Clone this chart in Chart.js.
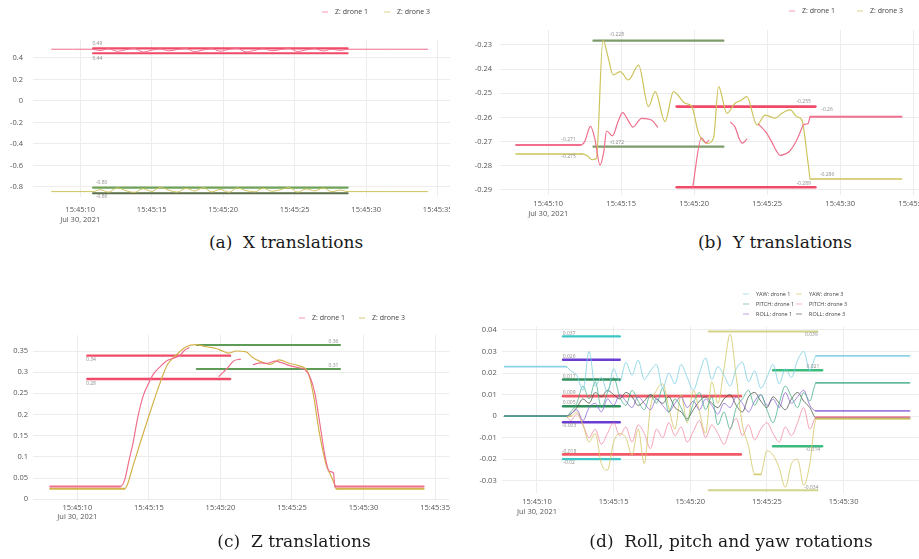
<!DOCTYPE html>
<html>
<head>
<meta charset="utf-8">
<script src="https://cdn.jsdelivr.net/npm/chart.js@4.4.1/dist/chart.umd.min.js"></script>
<style>
html,body{margin:0;padding:0;background:#fff;}
body{width:919px;height:559px;position:relative;overflow:hidden;}
.panel{position:absolute;overflow:hidden;}
.panel canvas{position:absolute;left:0;top:0;}
.cap{position:absolute;transform:translate(-50%,-50%);font-family:"DejaVu Serif","Liberation Serif",serif;font-size:17px;color:#1a1a1a;white-space:nowrap;}
</style>
</head>
<body>
<div class="panel" style="left:0;top:0;width:450px;height:232px"><canvas id="chartA"></canvas></div>
<div class="panel" style="left:455px;top:0;width:464px;height:232px"><canvas id="chartB"></canvas></div>
<div class="panel" style="left:0;top:295px;width:450px;height:240px"><canvas id="chartC"></canvas></div>
<div class="panel" style="left:455px;top:280px;width:464px;height:252px"><canvas id="chartD"></canvas></div>
<div class="cap" style="left:286px;top:242px">(a)&nbsp; X translations</div>
<div class="cap" style="left:775px;top:242px">(b)&nbsp; Y translations</div>
<div class="cap" style="left:294px;top:541px">(c)&nbsp; Z translations</div>
<div class="cap" style="left:731px;top:541px">(d)&nbsp; Roll, pitch and yaw rotations</div>
<script>
// ---------- shared tick labels / names ----------
const X_TICK_SECONDS = [10, 15, 20, 25, 30, 35];
const X_TICK_PREFIX = '15:45:';
const X_TICK_DATE = 'Jul 30, 2021';
const NAMES_TRANSLATION = ['Z: drone 1', 'Z: drone 3'];
const NAMES_ROTATION = ['YAW: drone 1', 'PITCH: drone 1', 'ROLL: drone 1', 'YAW: drone 3', 'PITCH: drone 3', 'ROLL: drone 3'];

// ---------- (a) X translations ----------
const A_TIME = [8.0, 10.9, 11.4, 12.0, 12.6, 13.2, 13.8, 14.4, 15.0, 15.6, 16.2, 16.8, 17.4, 18.0, 18.6, 19.2, 19.8, 20.4, 21.0, 21.6, 22.2, 22.8, 23.4, 24.0, 24.6, 25.2, 25.8, 26.4, 27.0, 27.6, 28.2, 28.7, 34.3];
const A_X_DRONE1 = [0.481, 0.481, 0.468, 0.486, 0.462, 0.477, 0.489, 0.455, 0.472, 0.484, 0.466, 0.479, 0.488, 0.458, 0.474, 0.486, 0.463, 0.480, 0.490, 0.456, 0.471, 0.485, 0.467, 0.478, 0.489, 0.460, 0.475, 0.486, 0.465, 0.481, 0.470, 0.481, 0.481];
const A_X_DRONE3 = [-0.843, -0.843, -0.825, -0.848, -0.806, -0.835, -0.850, -0.815, -0.842, -0.803, -0.830, -0.847, -0.812, -0.838, -0.805, -0.846, -0.822, -0.849, -0.808, -0.833, -0.845, -0.811, -0.840, -0.826, -0.804, -0.848, -0.818, -0.836, -0.809, -0.844, -0.828, -0.843, -0.843];
const A_LIMIT_SPAN = [10.9, 28.7];
const A_LIMITS_DRONE1 = [0.490, 0.444];
const A_LIMITS_DRONE3 = [-0.806, -0.858];
const A_Y_TICKS = [-0.8, -0.6, -0.4, -0.2, 0, 0.2, 0.4];
const A_NOTE_TEXT = ['0.49', '0.44', '-0.80', '-0.86'];
const A_NOTE_T = [11.2, 11.2, 11.5, 11.5];
const A_NOTE_V = [0.535, 0.392, -0.755, -0.892];

// ---------- (b) Y translations ----------
const B_TIME_DRONE1 = [7.8, 12.2, 12.5, 12.9, 13.2, 13.55, 13.8, 14.0, 14.4, 14.8, 15.1, 15.5, 15.8, 16.4, 17.1, 17.5, 17.7, 19.9, 20.5, 20.8, 21.0, 21.1, 22.5, 22.8, 23.1, 23.3, 23.6, 23.7, 24.4, 24.9, 25.3, 25.6, 25.9, 26.2, 26.5, 26.9, 27.2, 27.5, 27.8, 27.95, 34.2];
const B_Y_DRONE1 = [-0.2714, -0.2714, -0.2700, -0.2637, -0.2690, -0.2797, -0.2745, -0.2656, -0.2676, -0.2615, -0.2580, -0.2615, -0.2640, -0.2604, -0.2612, -0.2640, null, -0.2888, -0.2684, -0.2705, -0.2695, null, -0.2620, -0.2640, -0.2690, -0.2706, -0.2690, null, -0.2628, -0.2660, -0.2700, -0.2735, -0.2757, -0.2752, -0.2742, -0.2708, -0.2670, -0.2630, -0.2625, -0.2597, -0.2597];
const B_TIME_DRONE3 = [7.8, 12.3, 12.7, 13.0, 13.3, 13.75, 14.1, 14.45, 14.93, 15.5, 16.19, 16.87, 17.33, 18.0, 18.58, 19.38, 19.84, 20.3, 20.87, 21.32, 21.67, 22.24, 22.8, 23.2, 23.6, 24.3, 24.86, 25.55, 26.0, 26.58, 27.03, 27.37, 27.83, 27.95, 34.2];
const B_Y_DRONE3 = [-0.2751, -0.2751, -0.2760, -0.2775, -0.2770, -0.2279, -0.2350, -0.2424, -0.2410, -0.2445, -0.2383, -0.2555, -0.2493, -0.2617, -0.2493, -0.2541, -0.2555, -0.2665, -0.2707, -0.2686, -0.2472, -0.2583, -0.2541, -0.2530, -0.2514, -0.2631, -0.2590, -0.2603, -0.2583, -0.2569, -0.2597, -0.2610, -0.2803, -0.2855, -0.2855];
const B_LIMIT_SPAN_DRONE3 = [13.1, 22.0];
const B_LIMITS_DRONE3 = [-0.2282, -0.2721];
const B_LIMIT_SPAN_DRONE1 = [18.8, 28.3];
const B_LIMITS_DRONE1 = [-0.2555, -0.2889];
const B_Y_TICKS = [-0.29, -0.28, -0.27, -0.26, -0.25, -0.24, -0.23];
const B_NOTE_TEXT = ['-0.228', '-0.272', '-0.255', '-0.289', '-0.26', '-0.286', '-0.271', '-0.275'];
const B_NOTE_T = [14.7, 14.7, 27.5, 27.5, 29.1, 29.1, 11.4, 11.4];
const B_NOTE_V = [-0.2259, -0.2704, -0.2535, -0.2875, -0.2569, -0.2838, -0.2693, -0.2762];

// ---------- (c) Z translations ----------
const C_TIME_DRONE1 = [8.1, 13.0, 13.3, 13.6, 13.9, 14.2, 14.6, 15.0, 15.3, 15.7, 16.2, 16.7, 17.1, 17.5, 17.8, 17.9, 19.9, 20.2, 20.5, 20.9, 21.4, 21.5, 22.3, 22.8, 23.3, 23.8, 24.3, 24.9, 25.4, 25.9, 26.3, 26.6, 27.0, 27.3, 27.6, 27.9, 28.0, 34.2];
const C_Z_DRONE1 = [0.030, 0.030, 0.045, 0.090, 0.1345, 0.190, 0.244, 0.275, 0.295, 0.310, 0.326, 0.333, 0.338, 0.352, 0.3575, null, 0.290, 0.300, 0.310, 0.326, 0.331, null, 0.318, 0.322, 0.321, 0.326, 0.322, 0.315, 0.311, 0.306, 0.285, 0.250, 0.167, 0.103, 0.066, 0.062, 0.030, 0.030];
const C_TIME_DRONE3 = [8.1, 13.3, 13.5, 13.9, 14.4, 15.0, 15.7, 16.3, 16.9, 17.6, 18.3, 19.0, 19.7, 20.2, 20.6, 21.1, 21.8, 22.2, 22.8, 23.5, 24.1, 24.8, 25.5, 26.1, 26.5, 26.9, 27.4, 27.7, 28.0, 28.1, 34.2];
const C_Z_DRONE3 = [0.025, 0.025, 0.035, 0.080, 0.134, 0.197, 0.267, 0.318, 0.340, 0.360, 0.365, 0.360, 0.356, 0.349, 0.345, 0.350, 0.348, 0.336, 0.325, 0.3185, 0.329, 0.321, 0.315, 0.301, 0.246, 0.159, 0.080, 0.057, 0.033, 0.025, 0.025];
const C_LIMIT_SPAN_DRONE1 = [10.7, 20.67];
const C_LIMITS_DRONE1 = [0.339, 0.284];
const C_LIMIT_SPAN_DRONE3 = [18.34, 28.36];
const C_LIMITS_DRONE3 = [0.364, 0.3074];
const C_Y_TICKS = [0, 0.05, 0.1, 0.15, 0.2, 0.25, 0.3, 0.35];
const C_NOTE_TEXT = ['0.34', '0.28', '0.36', '0.31'];
const C_NOTE_T = [10.95, 10.95, 27.9, 27.9];
const C_NOTE_V = [0.329, 0.274, 0.373, 0.316];

// ---------- (d) Roll, pitch and yaw rotations ----------
const D_TIME = [7.9, 11.9, 12.2, 12.6, 13.0, 13.4, 13.8, 14.2, 14.6, 15.0, 15.4, 15.8, 16.2, 16.6, 17.0, 17.4, 17.8, 18.2, 18.6, 19.0, 19.4, 19.8, 20.2, 20.6, 21.0, 21.4, 21.8, 22.2, 22.6, 23.0, 23.4, 23.8, 24.2, 24.6, 25.0, 25.4, 25.8, 26.2, 26.6, 27.0, 27.4, 27.8, 28.2, 34.3];
const D_YAW_DRONE1 = [0.023, 0.023, 0.021, 0.019, 0.012, 0.030, 0.014, 0.018, 0.011, 0.022, 0.016, 0.025, 0.019, 0.026, 0.017, 0.021, 0.024, 0.013, 0.020, 0.015, 0.024, 0.018, 0.012, 0.020, 0.027, 0.017, 0.023, 0.019, 0.014, 0.022, 0.025, 0.016, 0.021, 0.013, 0.018, 0.024, 0.015, 0.022, 0.018, 0.026, 0.030, 0.021, 0.028, 0.028];
const D_PITCH_DRONE1 = [0, 0, 0.002, 0.006, 0.014, 0.008, 0.016, 0.004, 0.011, 0.018, 0.009, 0.005, 0.012, 0.007, 0.003, 0.010, 0.006, 0.013, 0.002, 0.008, 0.004, -0.002, 0.006, 0.011, 0.003, 0.009, -0.004, 0.002, -0.006, 0.004, 0.008, 0.012, 0.005, 0.010, 0.003, -0.003, 0.006, 0.014, 0.009, 0.004, 0.011, 0.007, 0.0155, 0.0155];
const D_ROLL_DRONE1 = [0, 0, 0.001, 0.003, -0.002, 0.004, 0.006, 0.002, 0.008, 0.005, 0.010, 0.007, 0.004, 0.009, 0.006, 0.003, 0.008, 0.005, 0.002, 0.006, 0.009, 0.004, 0.007, 0.003, 0.008, 0.005, 0.001, 0.006, 0.004, 0.009, 0.006, 0.002, 0.007, 0.010, 0.005, 0.008, 0.004, 0.011, 0.006, 0.009, 0.012, 0.005, 0.0025, 0.0025];
const D_YAW_DRONE3 = [0, 0, 0.000, 0.002, -0.004, -0.012, -0.008, -0.022, -0.025, -0.012, -0.008, -0.010, -0.018, -0.006, -0.022, 0.004, 0.012, 0.015, 0.004, -0.006, 0.010, -0.003, 0.012, 0.002, -0.008, 0.016, 0.006, 0.022, 0.038, 0.018, -0.004, -0.014, -0.027, -0.027, -0.016, -0.018, -0.024, -0.033, -0.022, -0.020, -0.032, -0.022, -0.0012, -0.0012];
const D_PITCH_DRONE3 = [0, 0, -0.002, 0.001, -0.004, -0.010, -0.006, -0.013, -0.008, -0.003, -0.009, -0.005, -0.012, -0.004, -0.008, -0.015, -0.006, -0.010, -0.003, -0.009, -0.005, -0.012, -0.007, -0.002, -0.010, -0.004, -0.008, -0.013, -0.006, -0.001, -0.009, -0.004, -0.011, -0.006, -0.003, -0.008, -0.012, -0.005, -0.009, -0.003, 0.004, -0.006, -0.0003, -0.0003];
const D_ROLL_DRONE3 = [0, 0, 0.001, 0.004, 0.008, 0.006, 0.011, 0.009, 0.012, 0.010, 0.008, 0.011, 0.009, 0.005, 0.007, 0.010, 0.008, 0.006, 0.009, 0.004, 0.002, -0.001, 0.003, 0.007, 0.009, 0.006, 0.004, 0.008, 0.010, 0.005, 0.002, 0.009, 0.011, 0.007, 0.004, 0.009, 0.006, 0.003, 0.008, 0.011, 0.007, 0.004, -0.0009, -0.0009];
const D_SPAN_EARLY = [11.7, 15.4];
const D_SPAN_RED = [11.7, 23.3];
const D_SPAN_OLIVE = [21.2, 28.3];
const D_SPAN_GREEN = [25.4, 28.6];
const D_LIMITS_CYAN = [0.037, -0.0199];
const D_LIMITS_PURPLE = [0.0262, -0.0028];
const D_LIMITS_DKGREEN = [0.017, 0.0046];
const D_LIMITS_RED = [0.0093, -0.0177];
const D_LIMITS_OLIVE = [0.0393, -0.0343];
const D_LIMITS_GREEN = [0.0213, -0.0139];
const D_Y_TICKS = [-0.03, -0.02, -0.01, 0, 0.01, 0.02, 0.03, 0.04];
const D_NOTE_TEXT = ['0.037', '0.026', '0.017', '0.009', '0.005', '-0.003', '-0.018', '-0.02', '0.039', '-0.034', '0.021', '-0.014'];
const D_NOTE_T = [12.1, 12.1, 12.1, 12.1, 12.1, 12.1, 12.1, 12.1, 27.9, 27.9, 28.0, 28.0];
const D_NOTE_V = [0.0385, 0.0277, 0.0185, 0.0108, 0.0061, -0.0043, -0.0162, -0.0214, 0.0377, -0.0330, 0.0228, -0.0154];

// ---------- helpers ----------
const FONT = '"Open Sans", sans-serif';
const GRID = '#ececec';
const TICK = '#555555';
Chart.defaults.font.family = FONT;

function pts(ts, vs) { return ts.map((t, i) => ({ x: t, y: vs[i] })); }
function hline(span, v) { return [{ x: span[0], y: v }, { x: span[1], y: v }]; }
function series(label, ts, vs, color, w, flatW) {
  return {
    label, data: pts(ts, vs), borderColor: color, backgroundColor: color,
    borderWidth: w, pointRadius: 0, cubicInterpolationMode: 'monotone', spanGaps: false,
    segment: { borderWidth: c => (c.p0.parsed.y === c.p1.parsed.y ? flatW : undefined) }
  };
}
function limit(span, v, color, w) {
  return { label: '', data: hline(span, v), borderColor: color, backgroundColor: color, borderWidth: w, pointRadius: 0 };
}
function fmtY(v) { return String(+(+v).toFixed(4)); }
function timeTick(v) {
  const s = Math.round(v);
  const lab = X_TICK_PREFIX + String(s).padStart(2, '0');
  return s === X_TICK_SECONDS[0] ? [lab, X_TICK_DATE] : lab;
}
function legendPlugin(items, size) {
  return {
    id: 'miniLegend',
    afterDraw(chart) {
      const ctx = chart.ctx; ctx.save();
      ctx.font = size + 'px ' + FONT; ctx.textBaseline = 'middle'; ctx.textAlign = 'left';
      items.forEach(it => {
        const ds = chart.data.datasets[it.ds];
        ctx.strokeStyle = ds.borderColor; ctx.lineWidth = 1.2; ctx.globalAlpha = 0.6;
        ctx.beginPath(); ctx.moveTo(it.x - 3, it.y); ctx.lineTo(it.x + 3, it.y); ctx.stroke();
        ctx.globalAlpha = 1; ctx.fillStyle = '#444';
        ctx.fillText(ds.label, it.x + 10, it.y);
      });
      ctx.restore();
    }
  };
}
function notePlugin(texts, ts, vs) {
  return {
    id: 'valueNotes',
    afterDatasetsDraw(chart) {
      const { ctx, scales: { x, y } } = chart; ctx.save();
      ctx.font = '5px ' + FONT; ctx.fillStyle = '#8d8d8d'; ctx.textAlign = 'center'; ctx.textBaseline = 'middle';
      texts.forEach((t, i) => ctx.fillText(t, x.getPixelForValue(ts[i]), y.getPixelForValue(vs[i])));
      ctx.restore();
    }
  };
}
function makeChart(id, W, H, area, xr, yr, yTicks, xPad, datasets, legendItems, legendSize, notes) {
  const cv = document.getElementById(id);
  cv.width = W; cv.height = H; cv.style.width = W + 'px'; cv.style.height = H + 'px';
  return new Chart(cv, {
    type: 'line',
    data: { datasets },
    options: {
      responsive: false, animation: false, devicePixelRatio: 1,
      layout: { padding: { left: 0, top: area.top, right: W - area.right, bottom: 0 } },
      plugins: { legend: { display: false }, tooltip: { enabled: false } },
      elements: { line: { borderCapStyle: 'round', borderJoinStyle: 'round' } },
      scales: {
        x: {
          type: 'linear', min: xr[0], max: xr[1],
          grid: { color: GRID, drawTicks: false, lineWidth: 1 }, border: { display: false },
          afterBuildTicks: s => { s.ticks = X_TICK_SECONDS.filter(v => v >= xr[0] && v <= xr[1]).map(v => ({ value: v })); },
          afterFit: s => { s.height = H - area.bottom; },
          ticks: { autoSkip: false, maxRotation: 0, padding: xPad, color: TICK, font: { family: FONT, size: 7.5, lineHeight: 1.3 }, callback: timeTick }
        },
        y: {
          type: 'linear', min: yr[0], max: yr[1],
          grid: { color: GRID, drawTicks: false, lineWidth: 1 }, border: { display: false },
          afterBuildTicks: s => { s.ticks = yTicks.map(v => ({ value: v })); },
          afterFit: s => { s.width = area.left; },
          ticks: { padding: area.yPad, color: TICK, font: { family: FONT, size: 7.5 }, callback: fmtY }
        }
      }
    },
    plugins: [legendPlugin(legendItems, legendSize), notePlugin(notes[0], notes[1], notes[2])]
  });
}

const PINK = '#ef6f8d', YELLOW = '#cdc35c', RED = '#f04a68', GREEN_B = '#7d9b6b', GREEN_C = '#5e9b57';

// (a)
makeChart('chartA', 490, 232, { left: 33, right: 452, top: 40, bottom: 197, yPad: 10 }, [6.7, 36], [-0.893, 0.567], A_Y_TICKS, 8, [
  series(NAMES_TRANSLATION[0], A_TIME, A_X_DRONE1, PINK, 1, 1),
  series(NAMES_TRANSLATION[1], A_TIME, A_X_DRONE3, YELLOW, 1, 1),
  limit(A_LIMIT_SPAN, A_LIMITS_DRONE1[0], RED, 2.2),
  limit(A_LIMIT_SPAN, A_LIMITS_DRONE1[1], RED, 2.2),
  limit(A_LIMIT_SPAN, A_LIMITS_DRONE3[0], '#6fa35a', 2.2),
  limit(A_LIMIT_SPAN, A_LIMITS_DRONE3[1], '#5b6e48', 2.2)
], [{ ds: 0, x: 325, y: 12 }, { ds: 1, x: 387, y: 12 }], 7, [A_NOTE_TEXT, A_NOTE_T, A_NOTE_V]);

// (b)
makeChart('chartB', 510, 232, { left: 45, right: 472.8, top: 30, bottom: 195, yPad: 8 }, [6.7, 36], [-0.2921, -0.2238], B_Y_TICKS, 4, [
  series(NAMES_TRANSLATION[0], B_TIME_DRONE1, B_Y_DRONE1, PINK, 1.2, 2),
  series(NAMES_TRANSLATION[1], B_TIME_DRONE3, B_Y_DRONE3, YELLOW, 1.2, 1.6),
  limit(B_LIMIT_SPAN_DRONE3, B_LIMITS_DRONE3[0], GREEN_B, 2.2),
  limit(B_LIMIT_SPAN_DRONE3, B_LIMITS_DRONE3[1], GREEN_B, 2.2),
  limit(B_LIMIT_SPAN_DRONE1, B_LIMITS_DRONE1[0], RED, 2.6),
  limit(B_LIMIT_SPAN_DRONE1, B_LIMITS_DRONE1[1], RED, 2.6)
], [{ ds: 0, x: 337, y: 11 }, { ds: 1, x: 405, y: 11 }], 7, [B_NOTE_TEXT, B_NOTE_T, B_NOTE_V]);

// (c)
makeChart('chartC', 490, 240, { left: 33, right: 449.4, top: 40, bottom: 205.5, yPad: 5 }, [6.9, 36], [-0.003, 0.3878], C_Y_TICKS, 2, [
  series(NAMES_TRANSLATION[0], C_TIME_DRONE1, C_Z_DRONE1, PINK, 1.2, 2),
  series(NAMES_TRANSLATION[1], C_TIME_DRONE3, C_Z_DRONE3, '#d2b24a', 1.2, 2),
  limit(C_LIMIT_SPAN_DRONE1, C_LIMITS_DRONE1[0], RED, 2.4),
  limit(C_LIMIT_SPAN_DRONE1, C_LIMITS_DRONE1[1], RED, 2.4),
  limit(C_LIMIT_SPAN_DRONE3, C_LIMITS_DRONE3[0], GREEN_C, 2),
  limit(C_LIMIT_SPAN_DRONE3, C_LIMITS_DRONE3[1], GREEN_C, 2)
], [{ ds: 0, x: 302, y: 23 }, { ds: 1, x: 362, y: 23 }], 7, [C_NOTE_TEXT, C_NOTE_T, C_NOTE_V]);

// (d)
makeChart('chartD', 470, 252, { left: 46.7, right: 463.7, top: 46.7, bottom: 213, yPad: 5 }, [7.7, 34.9], [-0.0356, 0.0415], D_Y_TICKS, 4, [
  series(NAMES_ROTATION[0], D_TIME, D_YAW_DRONE1, 'rgba(120,205,225,0.85)', 0.9, 1.8),
  series(NAMES_ROTATION[1], D_TIME, D_PITCH_DRONE1, 'rgba(60,170,130,0.8)', 0.9, 1.8),
  series(NAMES_ROTATION[2], D_TIME, D_ROLL_DRONE1, 'rgba(135,90,210,0.8)', 0.9, 1.8),
  series(NAMES_ROTATION[3], D_TIME, D_YAW_DRONE3, 'rgba(210,198,100,0.9)', 0.9, 1.8),
  series(NAMES_ROTATION[4], D_TIME, D_PITCH_DRONE3, 'rgba(240,130,155,0.8)', 0.9, 1.8),
  series(NAMES_ROTATION[5], D_TIME, D_ROLL_DRONE3, 'rgba(70,78,60,0.85)', 0.9, 1.8),
  limit(D_SPAN_EARLY, D_LIMITS_CYAN[0], '#3ec6c6', 2.4),
  limit(D_SPAN_EARLY, D_LIMITS_CYAN[1], '#3ec6c6', 2.4),
  limit(D_SPAN_EARLY, D_LIMITS_PURPLE[0], '#6a3cd2', 2.4),
  limit(D_SPAN_EARLY, D_LIMITS_PURPLE[1], '#6a3cd2', 2.4),
  limit(D_SPAN_EARLY, D_LIMITS_DKGREEN[0], '#2f8f5b', 2.4),
  limit(D_SPAN_EARLY, D_LIMITS_DKGREEN[1], '#2f8f5b', 2.4),
  limit(D_SPAN_RED, D_LIMITS_RED[0], '#f25a68', 2.6),
  limit(D_SPAN_RED, D_LIMITS_RED[1], '#f25a68', 2.6),
  limit(D_SPAN_OLIVE, D_LIMITS_OLIVE[0], '#d4d38e', 2),
  limit(D_SPAN_OLIVE, D_LIMITS_OLIVE[1], '#d4d38e', 2),
  limit(D_SPAN_GREEN, D_LIMITS_GREEN[0], '#3dbb7e', 2.4),
  limit(D_SPAN_GREEN, D_LIMITS_GREEN[1], '#3dbb7e', 2.4)
], [
  { ds: 0, x: 291, y: 14 }, { ds: 1, x: 291, y: 24 }, { ds: 2, x: 291, y: 34 },
  { ds: 3, x: 344, y: 14 }, { ds: 4, x: 344, y: 24 }, { ds: 5, x: 344, y: 34 }
], 5.5, [D_NOTE_TEXT, D_NOTE_T, D_NOTE_V]);
</script>
</body>
</html>
